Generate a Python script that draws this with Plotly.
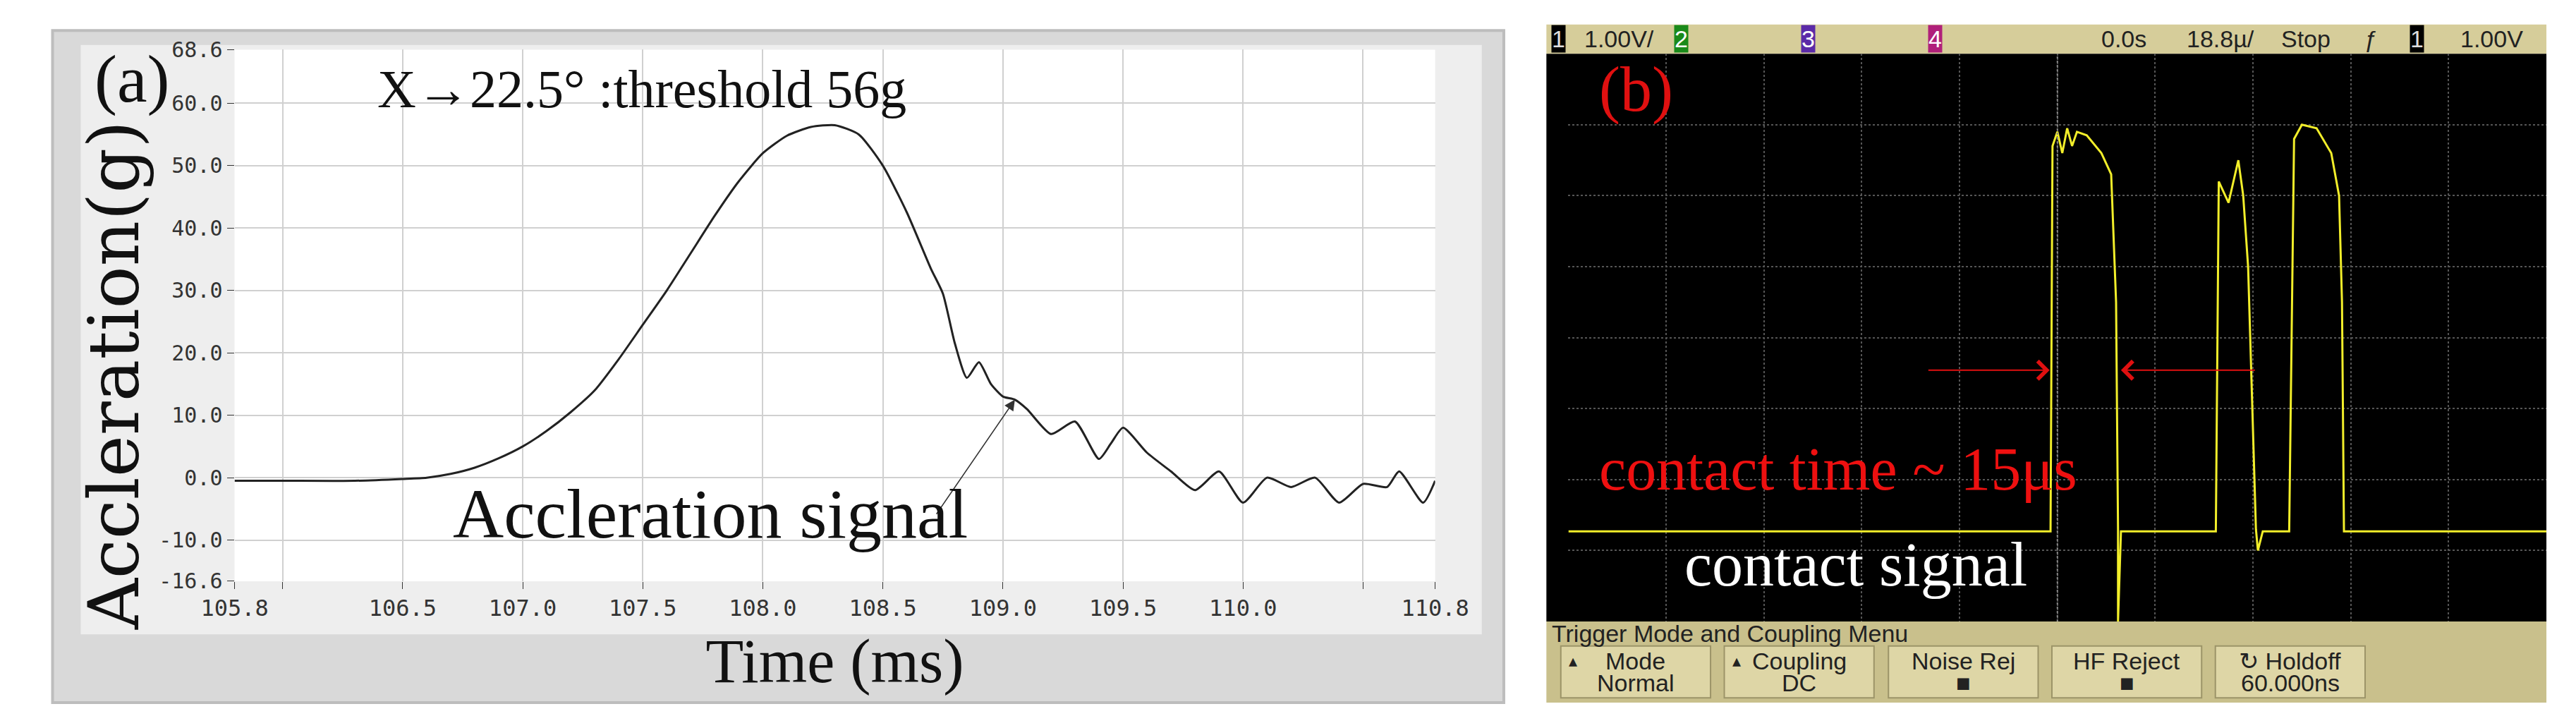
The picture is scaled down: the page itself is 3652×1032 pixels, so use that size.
import plotly.graph_objects as go

W, H = 3652, 1032
def px(x): return x / W
def py(y): return 1 - y / H

# ---- Panel (a) data ----
t_ms = [105.8, 106.0, 106.3, 106.5, 106.6, 106.7, 106.8, 106.9, 107.0, 107.1, 107.2, 107.3, 107.4,
        107.5, 107.6, 107.7, 107.8, 107.9, 108.0, 108.1, 108.2, 108.3, 108.4, 108.5, 108.6,
        108.7, 108.75, 108.8, 108.85, 108.9, 108.95, 109.0, 109.05, 109.1, 109.2, 109.3, 109.4,
        109.45, 109.5, 109.6, 109.7, 109.8, 109.9, 110.0, 110.1, 110.2, 110.3, 110.4, 110.5,
        110.6, 110.65, 110.75, 110.8]
accel_g = [-0.5, -0.5, -0.5, -0.2, 0.0, 0.6, 1.6, 3.1, 5.0, 7.5, 10.5, 14.0, 19.0,
           24.5, 30.0, 36.0, 42.0, 47.5, 52.0, 54.8, 56.2, 56.5, 55.0, 50.0, 42.5,
           33.5, 29.5, 21.5, 16.0, 18.5, 15.0, 13.0, 12.5, 11.0, 7.0, 9.0, 3.0,
           5.5, 8.0, 4.0, 1.0, -2.0, 1.0, -4.0, 0.0, -1.5, 0.0, -4.0, -1.0,
           -1.5, 1.0, -4.0, -0.5]
x_tickvals = [105.8, 106.0, 106.5, 107.0, 107.5, 108.0, 108.5, 109.0, 109.5, 110.0, 110.5, 110.8]
x_ticktext = ["105.8", "", "106.5", "107.0", "107.5", "108.0", "108.5", "109.0", "109.5", "110.0", "", "110.8"]
y_tickvals = [-16.6, -10, 0, 10, 20, 30, 40, 50, 60, 68.6]
y_ticktext = ["-16.6", "-10.0", "0.0", "10.0", "20.0", "30.0", "40.0", "50.0", "60.0", "68.6"]

# ---- Panel (b) oscilloscope trace (divisions) ----
scope_x = [0.0, 4.93, 4.95, 5.0, 5.05, 5.1, 5.15, 5.2, 5.3, 5.45, 5.55, 5.6, 5.62, 5.62, 5.65,
           6.62, 6.65, 6.75, 6.85, 6.9, 6.95, 7.03, 7.05, 7.1, 7.37, 7.42, 7.5, 7.65, 7.8, 7.88, 7.91, 7.93, 10.0]
scope_y = [1.27, 1.27, 6.7, 6.9, 6.6, 6.95, 6.7, 6.9, 6.85, 6.6, 6.3, 4.5, 1.3, 0.0, 1.27,
           1.27, 6.2, 5.9, 6.5, 6.0, 5.0, 1.3, 1.0, 1.27, 1.27, 6.8, 7.0, 6.95, 6.6, 6.0, 4.5, 1.27, 1.27]

fig = go.Figure()
fig.add_trace(go.Scatter(x=t_ms, y=accel_g, mode="lines", line=dict(color="#222", width=3, shape="spline", smoothing=0.6),
                         xaxis="x", yaxis="y", showlegend=False))
fig.add_trace(go.Scatter(x=scope_x, y=scope_y, mode="lines", line=dict(color="#f2ee2a", width=3),
                         xaxis="x2", yaxis="y2", showlegend=False))

def A(x, y, text, size, color="#111", family="Liberation Serif", xanchor="center", **kw):
    d = dict(x=px(x), y=py(y), xref="paper", yref="paper", text=text, showarrow=False,
             xanchor=xanchor, yanchor="middle", font=dict(family=family, size=size, color=color))
    d.update(kw)
    return d

shapes = []
shapes.append(dict(type="rect", xref="paper", yref="paper", x0=px(19), x1=px(2132), y0=py(1005), y1=py(19),
                   fillcolor="#d9d9d9", line=dict(color="#bdbdbd", width=4), layer="below"))
shapes.append(dict(type="rect", xref="paper", yref="paper", x0=px(60), x1=px(2100), y0=py(40), y1=py(905),
                   fillcolor="#eeeeee", line=dict(width=0), layer="below"))
shapes.append(dict(type="rect", xref="paper", yref="paper", x0=px(284), x1=px(2032), y0=py(827), y1=py(47),
                   fillcolor="#ffffff", line=dict(width=0), layer="below"))
shapes.append(dict(type="rect", xref="paper", yref="paper", x0=px(2194), x1=px(3650), y0=py(53), y1=py(10),
                   fillcolor="#d6cd9a", line=dict(width=0), layer="below"))
shapes.append(dict(type="rect", xref="paper", yref="paper", x0=px(2194), x1=px(3650), y0=py(886), y1=py(53),
                   fillcolor="#000000", line=dict(width=0), layer="below"))
shapes.append(dict(type="rect", xref="paper", yref="paper", x0=px(2194), x1=px(3650), y0=py(1005), y1=py(886),
                   fillcolor="#c9c08c", line=dict(width=0), layer="below"))

sans = "Liberation Sans Narrow, Liberation Sans"
btns = [("Mode", "Normal", 2215, True), ("Coupling", "DC", 2453, True), ("Noise Rej", "\u25A0", 2692, False),
        ("HF Reject", "\u25A0", 2930, False), ("\u21BB Holdoff", "60.000ns", 3168, False)]
ann = []
for a, b, x0, tri in btns:
    shapes.append(dict(type="rect", xref="paper", yref="paper", x0=px(x0), x1=px(x0 + 218), y0=py(998), y1=py(922),
                       fillcolor="#ded6a6", line=dict(color="#9c9468", width=2)))
    ann.append(A(x0 + 109, 944, a, 34, "#222", sans))
    ann.append(A(x0 + 109, 976, b, 34, "#222", sans))
    if tri:
        ann.append(A(x0 + 18, 944, "\u25B4", 24, "#222", sans))
ann.append(A(2200, 904, "Trigger Mode and Coupling Menu", 34, "#222", sans, xanchor="left"))
top = [("1", 2212, "#000", "#ddd"), ("1.00V/", 2300, None, "#222"), ("2", 2390, "#1a8a1a", "#fff"),
       ("3", 2575, "#5b2aa8", "#fff"), ("4", 2760, "#b0207a", "#fff"), ("0.0s", 3035, None, "#222"),
       ("18.8\u00b5/", 3175, None, "#222"), ("Stop", 3300, None, "#222"), ("\u0192", 3395, None, "#222"),
       ("1", 3462, "#000", "#ddd"), ("1.00V", 3570, None, "#222")]
for t, x, bg, c in top:
    ann.append(A(x, 31, t, 34, c, sans, bgcolor=bg, borderpad=0))

shapes.append(dict(type="line", xref="x2", yref="y2", x0=5.0, x1=5.0, y0=0, y1=8,
                   line=dict(color="#888", width=2, dash="dot")))
ann += [
    dict(x=4.92, y=3.54, ax=3.67, ay=3.54, xref="x2", yref="y2", axref="x2", ayref="y2", showarrow=True,
         arrowhead=4, arrowsize=2.5, arrowwidth=2, arrowcolor="#e01010", text=""),
    dict(x=5.65, y=3.54, ax=7.03, ay=3.54, xref="x2", yref="y2", axref="x2", ayref="y2", showarrow=True,
         arrowhead=4, arrowsize=2.5, arrowwidth=2, arrowcolor="#e01010", text=""),
    dict(x=0.3, y=2.15, xref="x2", yref="y2", text="contact time ~ 15\u03bcs", showarrow=False, xanchor="left",
         yanchor="middle", font=dict(family="Liberation Serif", size=86, color="#ee1010")),
    dict(x=1.17, y=0.8, xref="x2", yref="y2", text="contact signal", showarrow=False, xanchor="left",
         yanchor="middle", font=dict(family="Liberation Serif", size=88, color="#ffffff")),
    dict(x=0.3, y=7.5, xref="x2", yref="y2", text="(b)", showarrow=False, xanchor="left",
         yanchor="middle", font=dict(family="Liberation Serif", size=90, color="#e01010")),
    A(78, 90, "(a)", 96, xanchor="left"),
    A(490, 105, "X\u219222.5\u00b0 :threshold 56g", 76, xanchor="left"),
    dict(x=109.05, y=12.5, ax=108.72, ay=-6, xref="x", yref="y", axref="x", ayref="y", showarrow=True,
         arrowhead=2, arrowsize=2, arrowwidth=1.5, arrowcolor="#333", text=""),
    A(600, 728, "Accleration signal", 100, xanchor="left"),
    A(108, 525, "Accleration(g)", 100, family="DejaVu Serif", textangle=-90),
]

gridc = "#d0d0d0"
fig.update_layout(
    width=W, height=H, margin=dict(l=0, r=0, t=0, b=0),
    paper_bgcolor="white", plot_bgcolor="white",
    shapes=shapes, annotations=ann,
    xaxis=dict(domain=[px(284), px(2032)], range=[105.8, 110.8], tickvals=x_tickvals, ticktext=x_ticktext,
               showgrid=True, gridcolor=gridc, gridwidth=2, zeroline=False, ticks="outside", ticklen=10,
               tickcolor="#333", tickfont=dict(family="DejaVu Sans Mono", size=32, color="#333"),
               title=dict(text="Time (ms)", font=dict(family="Liberation Serif", size=88, color="#111"), standoff=25),
               anchor="y", showline=False),
    yaxis=dict(domain=[py(827), py(47)], range=[-16.6, 68.6], tickvals=y_tickvals, ticktext=y_ticktext,
               showgrid=True, gridcolor=gridc, gridwidth=2, zeroline=False, ticks="outside", ticklen=10,
               tickcolor="#333", tickfont=dict(family="DejaVu Sans Mono", size=30, color="#333"),
               anchor="x"),
    xaxis2=dict(domain=[px(2226), px(3650)], range=[0, 10], dtick=1, showgrid=True, gridcolor="#555",
                griddash="dot", gridwidth=2, zeroline=False, showticklabels=False, anchor="y2"),
    yaxis2=dict(domain=[py(886), py(53)], range=[0, 8], dtick=1, showgrid=True, gridcolor="#555",
                griddash="dot", gridwidth=2, zeroline=False, showticklabels=False, anchor="x2"),
)
fig.write_html("out.html")
